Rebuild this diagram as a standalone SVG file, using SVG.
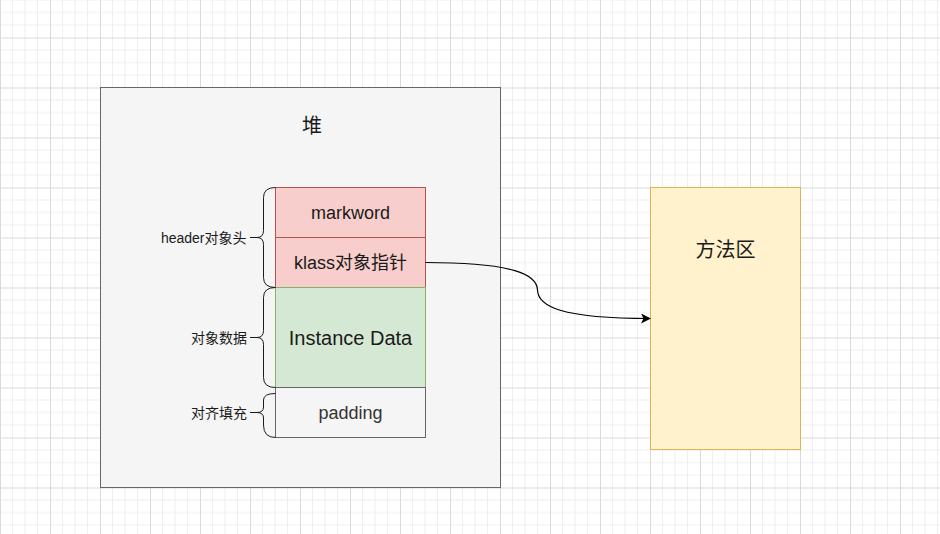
<svg xmlns="http://www.w3.org/2000/svg" width="940" height="534" viewBox="0 0 940 534">
<style>
.t{font-family:"Liberation Sans","Noto Sans CJK SC",Arial,sans-serif;text-anchor:middle;dominant-baseline:central;fill:#1a1a1a}
.lbl{font-family:"Liberation Sans","Noto Sans CJK SC",Arial,sans-serif;font-size:14px;text-anchor:end;dominant-baseline:central;fill:#1a1a1a}
.br{fill:none;stroke:#1a1a1a;stroke-width:1}
</style>
<defs>
<pattern id="grid" x="0" y="37.5" width="50" height="50" patternUnits="userSpaceOnUse">
<path d="M12.5,0V50M25,0V50M37.5,0V50M0,12.5H50M0,25H50M0,37.5H50" stroke="#efefef" stroke-width="1" fill="none"/>
<path d="M0.5,0V50M0,0.5H50" stroke="#dadada" stroke-width="1" fill="none"/>
</pattern>
<marker id="arr" viewBox="0 0 10 10" refX="9" refY="5" markerWidth="10" markerHeight="10" markerUnits="userSpaceOnUse" orient="auto">
<path d="M0,0 L10,5 L0,10 L2.5,5 Z" fill="#000"/>
</marker>
</defs>
<rect width="940" height="534" fill="#fff"/>
<rect width="940" height="534" fill="url(#grid)"/>
<g id="heap">
<rect x="100.5" y="87.5" width="400" height="400" fill="#f5f5f5" stroke="#666"/>
<text class="t" x="312" y="126" font-size="20">堆</text>
</g>
<g id="markword">
<rect x="275.5" y="187.5" width="150" height="50" fill="#f8cecc" stroke="#b85450"/>
<text class="t" x="350.5" y="212.5" font-size="18">markword</text>
</g>
<g id="klass">
<rect x="275.5" y="237.5" width="150" height="50" fill="#f8cecc" stroke="#b85450"/>
<text class="t" x="350.5" y="262.5" font-size="18">klass对象指针</text>
</g>
<g id="instance">
<rect x="275.5" y="287.5" width="150" height="100" fill="#d5e8d4" stroke="#82b366"/>
<text class="t" x="350.5" y="337.5" font-size="20">Instance Data</text>
</g>
<g id="padding">
<rect x="275.5" y="387.5" width="150" height="50" fill="#f5f5f5" stroke="#666"/>
<text class="t" x="350.5" y="412.5" font-size="18" style="fill:#333">padding</text>
</g>
<g id="brace-header">
<path class="br" d="M275.5,187.5 Q263.5,187.5 263.5,197.5 L263.5,230.5 Q263.5,237.5 257,237.5 L250,237.5 M257,237.5 Q263.5,237.5 263.5,244.5 L263.5,277.5 Q263.5,287.5 275.5,287.5"/>
<text class="lbl" x="246.5" y="238">header对象头</text>
</g>
<g id="brace-data">
<path class="br" d="M275.5,287.5 Q263.5,287.5 263.5,297.5 L263.5,330.5 Q263.5,337.5 257,337.5 L250,337.5 M257,337.5 Q263.5,337.5 263.5,344.5 L263.5,377.5 Q263.5,387.5 275.5,387.5"/>
<text class="lbl" x="247" y="338">对象数据</text>
</g>
<g id="brace-padding">
<path class="br" d="M275.5,393.5 Q263.5,393.5 263.5,400 L263.5,407 Q263.5,412.5 257,412.5 L250,412.5 M257,412.5 Q263.5,412.5 263.5,418 L263.5,425 Q263.5,437.5 275.5,437.5"/>
<text class="lbl" x="247" y="413">对齐填充</text>
</g>
<g id="method-area">
<rect x="650.5" y="187.5" width="150" height="262" fill="#fff2cc" stroke="#d6b656"/>
<text class="t" x="725.5" y="250" font-size="20">方法区</text>
</g>
<g id="connectors">
<path d="M425.5,262.5 C515,262.5 537,275 537.5,290 C538,306 560,318.5 650,318.5" fill="none" stroke="#000" stroke-width="1.2" marker-end="url(#arr)"/>
</g>
</svg>
